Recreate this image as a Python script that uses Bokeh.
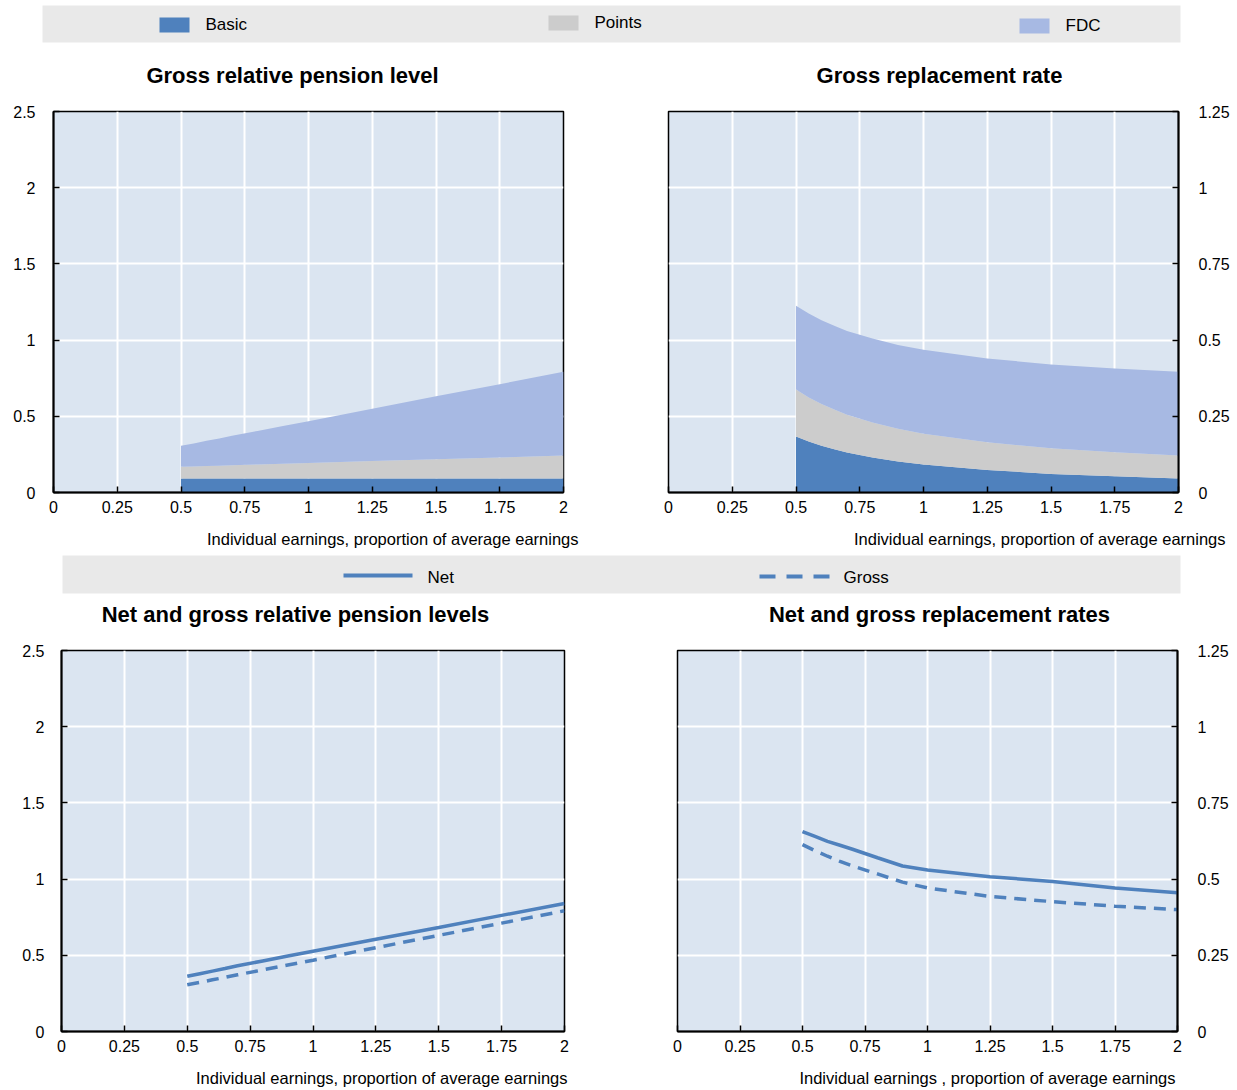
from bokeh.plotting import figure
from bokeh.layouts import column, row
from bokeh.models import Range1d, FixedTicker, ColumnDataSource
from bokeh.core.properties import value
from bokeh.embed import file_html
from bokeh.resources import INLINE

# ---------------- data ----------------
earnings = [0.5, 0.55, 0.6, 0.65, 0.7, 0.8, 0.9, 1.0, 1.25, 1.5, 1.75, 2.0]

# Gross relative pension level (stacked components)
basic_level = [0.092, 0.092, 0.092, 0.092, 0.092, 0.092, 0.092, 0.092, 0.092, 0.092, 0.092, 0.092]
points_level = [0.077, 0.079, 0.082, 0.084, 0.087, 0.092, 0.096, 0.101, 0.114, 0.126, 0.138, 0.150]
fdc_level = [0.138, 0.151, 0.165, 0.179, 0.193, 0.220, 0.248, 0.275, 0.344, 0.413, 0.481, 0.550]

# Gross replacement rate (stacked components)
basic_rr = [0.184, 0.167, 0.153, 0.142, 0.131, 0.115, 0.102, 0.092, 0.074, 0.061, 0.053, 0.046]
points_rr = [0.154, 0.145, 0.137, 0.130, 0.124, 0.115, 0.107, 0.101, 0.091, 0.084, 0.079, 0.075]
fdc_rr = [0.275, 0.275, 0.275, 0.275, 0.275, 0.275, 0.275, 0.275, 0.275, 0.275, 0.275, 0.275]

# Net and gross relative pension levels
net_level = [0.362, 0.379, 0.396, 0.413, 0.431, 0.463, 0.495, 0.527, 0.605, 0.683, 0.762, 0.840]
gross_level = [0.307, 0.322, 0.339, 0.355, 0.372, 0.404, 0.436, 0.468, 0.550, 0.631, 0.711, 0.792]

# Net and gross replacement rates
net_rr = [0.656, 0.640, 0.624, 0.611, 0.598, 0.570, 0.543, 0.530, 0.508, 0.492, 0.471, 0.455]
gross_rr = [0.613, 0.593, 0.575, 0.558, 0.543, 0.517, 0.490, 0.471, 0.443, 0.426, 0.411, 0.400]

stack_names = ["Basic", "Points", "FDC"]
line_names = ["Net", "Gross"]

x_ticks = [0, 0.25, 0.5, 0.75, 1, 1.25, 1.5, 1.75, 2]
x_tick_labels = ["0", "0.25", "0.5", "0.75", "1", "1.25", "1.5", "1.75", "2"]
y_ticks_level = [0, 0.5, 1, 1.5, 2, 2.5]
y_tick_labels_level = ["0", "0.5", "1", "1.5", "2", "2.5"]
y_ticks_rr = [0, 0.25, 0.5, 0.75, 1, 1.25]
y_tick_labels_rr = ["0", "0.25", "0.5", "0.75", "1", "1.25"]

titles = ["Gross relative pension level", "Gross replacement rate",
          "Net and gross relative pension levels", "Net and gross replacement rates"]
xlabels = ["Individual earnings, proportion of average earnings",
           "Individual earnings, proportion of average earnings",
           "Individual earnings, proportion of average earnings",
           "Individual earnings , proportion of average earnings"]

# ---------------- style ----------------
FONT = "Liberation Sans"
C_BASIC = "#4f81bd"
C_POINTS = "#cccccc"
C_FDC = "#a7b9e3"
C_LINE = "#4f81bd"
BG = "#dbe5f1"
LEG_BG = "#e9e9e9"
stack_colors = [C_BASIC, C_POINTS, C_FDC]
W = 1235


def strip(height):
    s = figure(width=W, height=height, x_range=Range1d(0, W), y_range=Range1d(height, 0),
               output_backend="svg", toolbar_location=None, x_axis_type=None, y_axis_type=None,
               min_border=0, background_fill_color="white", border_fill_color="white")
    s.outline_line_color = None
    s.grid.visible = False
    return s


def strip_text(s, xs, ys, texts, size, align, bold=False):
    s.text(x=xs, y=ys, text=texts, text_font=value(FONT), text_font_size=size,
           text_font_style="bold" if bold else "normal", text_baseline="middle",
           text_align=align, text_color="black")


def make_panel(width, height, bl, br, bt, bb, ymax, yticks, ylabels, yloc, standoff):
    p = figure(width=width, height=height, x_range=Range1d(0, 2), y_range=Range1d(0, ymax),
               output_backend="svg", toolbar_location=None, y_axis_location=yloc,
               min_border_left=bl, min_border_right=br, min_border_top=bt, min_border_bottom=bb,
               background_fill_color=BG, border_fill_color="white")
    p.outline_line_color = "black"
    p.outline_line_width = 1.5
    p.xgrid.ticker = FixedTicker(ticks=x_ticks)
    p.ygrid.ticker = FixedTicker(ticks=yticks)
    p.grid.grid_line_color = "white"
    p.grid.grid_line_width = 2
    p.xaxis.ticker = FixedTicker(ticks=x_ticks)
    p.xaxis.major_label_overrides = dict(zip(x_ticks, x_tick_labels))
    p.yaxis.ticker = FixedTicker(ticks=yticks)
    p.yaxis.major_label_overrides = dict(zip(yticks, ylabels))
    for ax in p.axis:
        ax.major_tick_in = 6
        ax.major_tick_out = 0
        ax.minor_tick_in = 0
        ax.minor_tick_out = 0
        ax.axis_line_color = "black"
        ax.axis_line_width = 2
        ax.major_tick_line_color = "black"
        ax.major_tick_line_width = 1.5
        ax.major_label_text_font = FONT
        ax.major_label_text_font_size = "16px"
        ax.major_label_text_color = "black"
    p.xaxis.major_label_standoff = 8
    p.yaxis.major_label_standoff = standoff
    return p


# ---------------- top strip: legend 1 + titles ----------------
t1 = strip(100)
t1.quad(left=42, right=1180, top=5, bottom=42, color=LEG_BG, line_color=None)
sw_x = [159, 548, 1019]
sw_y = [17, 15, 18]
t1.quad(left=sw_x, right=[v + 30 for v in sw_x], top=sw_y, bottom=[v + 15 for v in sw_y],
        color=stack_colors, line_color=None)
strip_text(t1, [v + 46 for v in sw_x], [v + 7 for v in sw_y], stack_names, "17px", "left")
strip_text(t1, [292, 939], [75, 75], titles[:2], "22px", "center", bold=True)

# ---------------- row 1 ----------------
src1 = ColumnDataSource(dict(x=earnings, Basic=basic_level, Points=points_level, FDC=fdc_level))
p1 = make_panel(610, 425, 53, 47, 11, 33, 2.5, y_ticks_level, y_tick_labels_level, "left", 18)
p1.varea_stack(stackers=stack_names, x="x", color=stack_colors, source=src1)

src2 = ColumnDataSource(dict(x=earnings, Basic=basic_rr, Points=points_rr, FDC=fdc_rr))
p2 = make_panel(625, 425, 58, 57, 11, 33, 1.25, y_ticks_rr, y_tick_labels_rr, "right", 20)
p2.varea_stack(stackers=stack_names, x="x", color=stack_colors, source=src2)

# ---------------- middle strip: x labels, legend 2, titles ----------------
t2 = strip(115)
strip_text(t2, [578, 1225], [13, 13], xlabels[:2], "16.5px", "right")
t2.quad(left=62, right=1180, top=30, bottom=68, color=LEG_BG, line_color=None)
t2.line(x=[343, 412], y=[50, 50], line_color=C_LINE, line_width=4)
t2.line(x=[759, 829], y=[51, 51], line_color=C_LINE, line_width=4, line_dash="16 11")
strip_text(t2, [427, 843], [52, 52], line_names, "17px", "left")
strip_text(t2, [295, 939], [89, 89], titles[2:], "22px", "center", bold=True)

# ---------------- row 2 ----------------
p3 = make_panel(610, 420, 61, 46, 10, 29, 2.5, y_ticks_level, y_tick_labels_level, "left", 17)
p3.line(earnings, net_level, line_color=C_LINE, line_width=3.5)
p3.line(earnings, gross_level, line_color=C_LINE, line_width=3.5, line_dash="12 8")

p4 = make_panel(625, 420, 67, 58, 10, 29, 1.25, y_ticks_rr, y_tick_labels_rr, "right", 20)
p4.line(earnings, net_rr, line_color=C_LINE, line_width=3.5)
p4.line(earnings, gross_rr, line_color=C_LINE, line_width=3.5, line_dash="12 8")

# ---------------- bottom strip: x labels ----------------
t3 = strip(30)
strip_text(t3, [567, 1175], [17, 17], xlabels[2:], "16.5px", "right")

layout = column(t1, row(p1, p2), t2, row(p3, p4), t3)
open("out.html", "w").write(file_html(layout, INLINE))
